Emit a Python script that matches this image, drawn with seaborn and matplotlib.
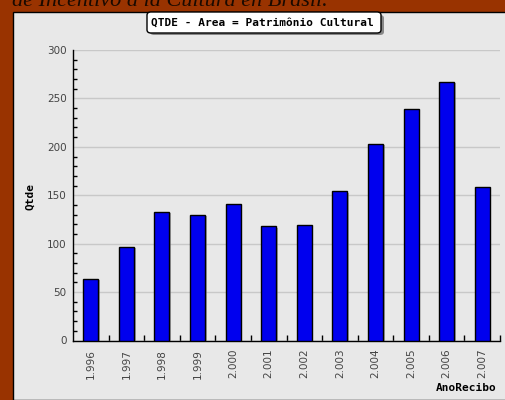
import matplotlib
matplotlib.use("Agg")
import matplotlib.pyplot as plt
import matplotlib.patheffects as pe
from matplotlib.patches import FancyBboxPatch, Rectangle
from matplotlib.ticker import MultipleLocator, FixedLocator
import seaborn as sns
import pandas as pd

# Number of receipts per year, area "Patrimônio Cultural"
years = ["1.996", "1.997", "1.998", "1.999", "2.000", "2.001",
         "2.002", "2.003", "2.004", "2.005", "2.006", "2.007"]
qtde = [64, 97, 133, 130, 141, 118, 119, 154, 203, 239, 267, 159]

df = pd.DataFrame({"AnoRecibo": years, "Qtde": qtde})

sns.set_theme(style="white")
plt.rcParams["font.family"] = ["DejaVu Sans"]

W, H = 505, 400
fig = plt.figure(figsize=(W / 100, H / 100), dpi=100)
fig.patch.set_facecolor("#993300")

# grey panel with a thin black edge
fig.add_artist(Rectangle((13 / W, 0), 1, 1 - 12 / H, transform=fig.transFigure,
                         facecolor="#e8e8e8", edgecolor="#000000", lw=1.0, zorder=0))

# page heading, partly clipped at the top
fig.text(12 / W, 1 - 6.5 / H, "de Incentivo à la Cultura en Brasil.",
         fontsize=16, family="Liberation Serif", style="italic",
         color="#1a0a00", va="baseline", ha="left")

ax = fig.add_axes([73 / W, (H - 340.5) / H, (500 - 73) / W, (340.5 - 50) / H])
ax.set_facecolor("#e8e8e8")

sns.barplot(data=df, x="AnoRecibo", y="Qtde", color="#0000ee", width=0.42,
            edgecolor="#000000", linewidth=1.0, saturation=1, ax=ax, zorder=3)
for p in ax.patches:
    p.set_path_effects([pe.SimplePatchShadow(offset=(1.2, -1.0), shadow_rgbFace="#777777", alpha=0.6),
                        pe.Normal()])

ax.set_xlim(-0.5, len(years) - 0.5)
ax.set_ylim(0, 300)
ax.yaxis.set_major_locator(MultipleLocator(50))
ax.yaxis.set_minor_locator(MultipleLocator(10))
ax.grid(axis="y", which="major", color="#c8c8c8", lw=1.0, zorder=0)
ax.set_axisbelow(True)

for s in ["top", "right"]:
    ax.spines[s].set_visible(False)
for s in ["left", "bottom"]:
    ax.spines[s].set_color("#000000")
    ax.spines[s].set_linewidth(1.0)

ax.tick_params(axis="y", which="major", direction="inout", length=5, width=1,
               color="#000000", labelsize=7.5, labelcolor="#444444", pad=2)
ax.tick_params(axis="y", which="minor", direction="in", length=3, width=1,
               color="#000000", left=True)
ax.xaxis.set_minor_locator(FixedLocator([i + 0.5 for i in range(len(years))]))
ax.tick_params(axis="x", which="major", length=0, labelsize=7.5,
               labelcolor="#444444", pad=6, rotation=90)
ax.tick_params(axis="x", which="minor", direction="in", length=4, width=1,
               color="#000000", bottom=True)

ax.set_xlabel("")
ax.set_ylabel("")
fig.text(30 / W, 1 - 196 / H, "Qtde", rotation=90, fontsize=8, fontweight="bold",
         family="DejaVu Sans Mono", ha="center", va="center", color="#000000")
fig.text(497 / W, 1 - 388 / H, "AnoRecibo", fontsize=8, fontweight="bold",
         family="DejaVu Sans Mono", ha="right", va="center", color="#000000")

# title box with shadow
box_shadow = FancyBboxPatch((150 / W, 1 - 35 / H), 234 / W, 20 / H,
                            boxstyle="round,pad=0,rounding_size=0.008",
                            transform=fig.transFigure, facecolor="#888888",
                            edgecolor="none", zorder=4)
box = FancyBboxPatch((147 / W, 1 - 33 / H), 234 / W, 21 / H,
                     boxstyle="round,pad=0,rounding_size=0.008",
                     transform=fig.transFigure, facecolor="#ffffff",
                     edgecolor="#000000", lw=1.0, zorder=5)
fig.add_artist(box_shadow)
fig.add_artist(box)
fig.text(262 / W, 1 - 22.5 / H, "QTDE - Area = Patrimônio Cultural", fontsize=8,
         fontweight="bold", family="DejaVu Sans Mono", ha="center", va="center",
         color="#000000", zorder=6)

fig.savefig("out.png", dpi=100, facecolor=fig.get_facecolor())
